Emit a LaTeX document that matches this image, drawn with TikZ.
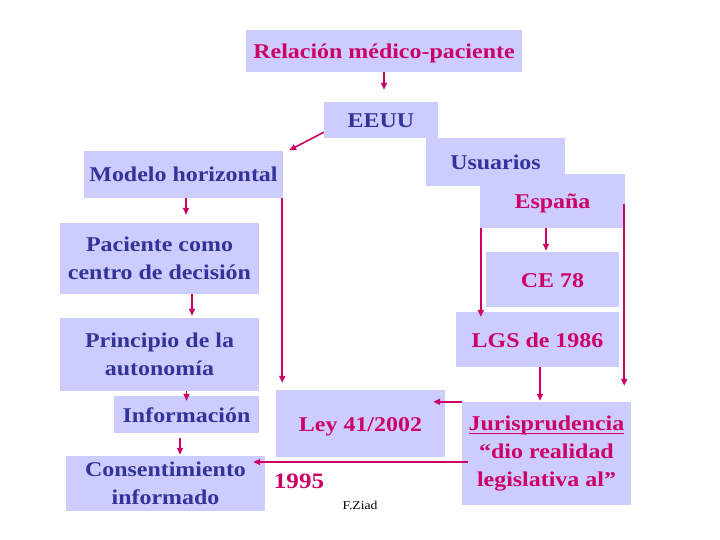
\documentclass[tikz,border=0pt]{standalone}
\usepackage{fontspec}
\setmainfont{Liberation Serif}[FakeStretch=1.14]
\usetikzlibrary{arrows.meta}
\definecolor{lav}{RGB}{204,204,255}
\definecolor{bl}{RGB}{51,51,153}
\definecolor{mg}{RGB}{204,0,102}
\tikzset{
  box/.style={rectangle, fill=lav, inner sep=0pt,
    font=\bfseries\fontsize{21}{28}\selectfont},
  one/.style={text height=15pt, text depth=0pt},
  multi/.style={align=center},
  bt/.style={box, text=bl},
  mt/.style={box, text=mg},
  arr/.style={draw=mg, line width=1.6pt, -{Triangle[length=7pt,width=6pt]}}
}
\newcommand{\ulj}[1]{\setbox0\hbox{#1}\rlap{\rule[-3.5pt]{\wd0}{1.3pt}}\box0}
\begin{document}
\begin{tikzpicture}[x=1pt,y=-1pt]
\useasboundingbox[fill=white] (0,0) rectangle (720,540);
% boxes
\node[mt, one, minimum width=276pt, minimum height=42pt] (rel) at (384,51) {Relación médico-paciente};
\node[bt, one, minimum width=114pt, minimum height=36pt] (eeuu) at (381,120) {EEUU};
\node[bt, one, minimum width=139pt, minimum height=48pt] (usu) at (495.5,162) {Usuarios};
\node[mt, one, minimum width=145pt, minimum height=54pt] (esp) at (552.5,201) {España};
\node[bt, one, minimum width=199pt, minimum height=47pt] (mod) at (183.5,174.5) {Modelo horizontal};
\node[bt, multi, minimum width=199pt, minimum height=71pt] (pac) at (159.5,258.5) {Paciente como\\centro de decisión};
\node[mt, one, minimum width=133pt, minimum height=55pt] (ce) at (552.5,279.5) {CE 78};
\node[mt, one, minimum width=163pt, minimum height=55pt] (lgs) at (537.5,339.5) {LGS de 1986};
\node[bt, multi, minimum width=199pt, minimum height=73pt] (pri) at (159.5,354.5) {Principio de la\\autonomía};
\node[bt, one, minimum width=145pt, minimum height=37pt] (inf) at (186.5,414.5) {Información};
\node[mt, one, minimum width=169pt, minimum height=67pt] (ley) at (360.5,423.5) {Ley 41/2002};
\node[bt, multi, minimum width=199pt, minimum height=55pt] (con) at (165.5,483.5) {Consentimiento\\informado};
\node[mt, multi, minimum width=169pt, minimum height=103pt] (jur) at (546.5,453.5) {\ulj{Jurisprudencia}\\“dio realidad\\legislativa al”};
% free texts
\node[text=mg, font=\bfseries\fontsize{22}{26}\selectfont, inner sep=0pt] (y95) at (299,481) {1995};
\node[text=black, font=\fontsize{12}{14}\selectfont, inner sep=0pt] (fz) at (360,505) {F.Ziad};
% connectors
\draw[arr, shorten >=12pt] (rel.south) -- (rel.south |- eeuu.north);
\draw[arr, shorten >=1pt] ([yshift=6pt]eeuu.south west) -- ([xshift=5pt]mod.north east);
\draw[arr, shorten >=8pt] ([xshift=2.5pt]mod.south) -- ([xshift=2.5pt]mod.south |- pac.north);
\draw[arr, shorten >=7pt] ([xshift=-1pt]mod.south east) -- ([xshift=-1pt]mod.south east |- ley.north);
\draw[arr, shorten >=2pt] ([xshift=32.5pt]pac.south) -- ([xshift=32.5pt]pac.south |- pri.north);
\draw[arr, shorten >=-5pt] (pri.south -| inf.north) -- (inf.north);
\draw[arr, shorten <=5pt, shorten >=1pt] ([xshift=-6.5pt]inf.south) -- ([xshift=-6.5pt]inf.south |- con.north);
\draw[arr, shorten >=1pt] ([xshift=-6.5pt]esp.south) -- ([xshift=-6.5pt]esp.south |- ce.north);
\draw[arr, shorten >=-5pt] ([xshift=1pt]esp.south west) -- ([xshift=1pt]esp.south west |- lgs.north);
\draw[arr, shorten >=19pt] ([xshift=-1pt,yshift=-3pt]esp.east) -- ([xshift=-1pt,yshift=-3pt]esp.east |- jur.north);
\draw[arr, shorten >=1pt] ([xshift=2.5pt]lgs.south) -- ([xshift=2.5pt]lgs.south |- jur.north);
\draw[arr, shorten >=-12pt] (jur.north west) -- (jur.north west -| ley.east);
\draw[arr, shorten >=-18pt] ([xshift=6pt,yshift=-8.5pt]jur.west) -- ([xshift=6pt,yshift=-8.5pt]jur.west -| con.east);
\end{tikzpicture}
\end{document}
